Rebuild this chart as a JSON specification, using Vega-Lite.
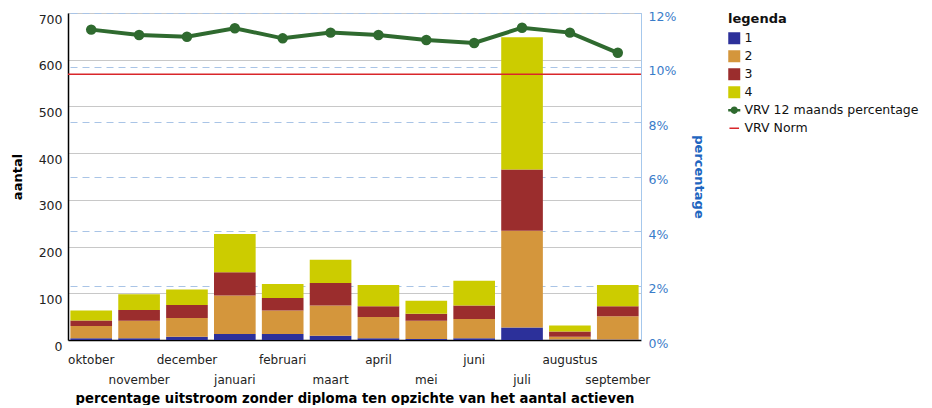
{
  "$schema": "https://vega.github.io/schema/vega-lite/v6.json",
  "width": 573,
  "height": 327,
  "padding": {"left": 11, "top": 10, "right": 0, "bottom": 0},
  "config": {
    "font": "DejaVu Sans",
    "view": {"stroke": "#b9d3ee", "strokeWidth": 1},
    "legend": {
      "titleFontSize": 13,
      "titleFontWeight": "bold",
      "titleColor": "#111",
      "labelFontSize": 12.5,
      "labelColor": "#111",
      "labelLimit": 0,
      "symbolSize": 144,
      "rowPadding": 5,
      "titlePadding": 6
    }
  },
  "datasets": {
    "bars": [
      {"maand": "oktober", "legenda": "1", "aantal": 4},
      {"maand": "oktober", "legenda": "2", "aantal": 26},
      {"maand": "oktober", "legenda": "3", "aantal": 12},
      {"maand": "oktober", "legenda": "4", "aantal": 21},
      {"maand": "november", "legenda": "1", "aantal": 4},
      {"maand": "november", "legenda": "2", "aantal": 37},
      {"maand": "november", "legenda": "3", "aantal": 23},
      {"maand": "november", "legenda": "4", "aantal": 34},
      {"maand": "december", "legenda": "1", "aantal": 7},
      {"maand": "december", "legenda": "2", "aantal": 40},
      {"maand": "december", "legenda": "3", "aantal": 28},
      {"maand": "december", "legenda": "4", "aantal": 33},
      {"maand": "januari", "legenda": "1", "aantal": 13},
      {"maand": "januari", "legenda": "2", "aantal": 82},
      {"maand": "januari", "legenda": "3", "aantal": 50},
      {"maand": "januari", "legenda": "4", "aantal": 82},
      {"maand": "februari", "legenda": "1", "aantal": 13},
      {"maand": "februari", "legenda": "2", "aantal": 50},
      {"maand": "februari", "legenda": "3", "aantal": 27},
      {"maand": "februari", "legenda": "4", "aantal": 30},
      {"maand": "maart", "legenda": "1", "aantal": 9},
      {"maand": "maart", "legenda": "2", "aantal": 65},
      {"maand": "maart", "legenda": "3", "aantal": 48},
      {"maand": "maart", "legenda": "4", "aantal": 50},
      {"maand": "april", "legenda": "1", "aantal": 4},
      {"maand": "april", "legenda": "2", "aantal": 45},
      {"maand": "april", "legenda": "3", "aantal": 23},
      {"maand": "april", "legenda": "4", "aantal": 46},
      {"maand": "mei", "legenda": "1", "aantal": 2},
      {"maand": "mei", "legenda": "2", "aantal": 39},
      {"maand": "mei", "legenda": "3", "aantal": 15},
      {"maand": "mei", "legenda": "4", "aantal": 28},
      {"maand": "juni", "legenda": "1", "aantal": 4},
      {"maand": "juni", "legenda": "2", "aantal": 41},
      {"maand": "juni", "legenda": "3", "aantal": 29},
      {"maand": "juni", "legenda": "4", "aantal": 53},
      {"maand": "juli", "legenda": "1", "aantal": 27},
      {"maand": "juli", "legenda": "2", "aantal": 207},
      {"maand": "juli", "legenda": "3", "aantal": 131},
      {"maand": "juli", "legenda": "4", "aantal": 283},
      {"maand": "augustus", "legenda": "1", "aantal": 1},
      {"maand": "augustus", "legenda": "2", "aantal": 6},
      {"maand": "augustus", "legenda": "3", "aantal": 11},
      {"maand": "augustus", "legenda": "4", "aantal": 13},
      {"maand": "september", "legenda": "1", "aantal": 1},
      {"maand": "september", "legenda": "2", "aantal": 50},
      {"maand": "september", "legenda": "3", "aantal": 21},
      {"maand": "september", "legenda": "4", "aantal": 46}
    ],
    "lijn": [
      {"maand": "oktober", "reeks": "VRV 12 maands percentage", "pct": 0.1139},
      {"maand": "november", "reeks": "VRV 12 maands percentage", "pct": 0.1119},
      {"maand": "december", "reeks": "VRV 12 maands percentage", "pct": 0.1113},
      {"maand": "januari", "reeks": "VRV 12 maands percentage", "pct": 0.1144},
      {"maand": "februari", "reeks": "VRV 12 maands percentage", "pct": 0.1107},
      {"maand": "maart", "reeks": "VRV 12 maands percentage", "pct": 0.1128},
      {"maand": "april", "reeks": "VRV 12 maands percentage", "pct": 0.1119},
      {"maand": "mei", "reeks": "VRV 12 maands percentage", "pct": 0.1101},
      {"maand": "juni", "reeks": "VRV 12 maands percentage", "pct": 0.109},
      {"maand": "juli", "reeks": "VRV 12 maands percentage", "pct": 0.1146},
      {"maand": "augustus", "reeks": "VRV 12 maands percentage", "pct": 0.1128},
      {"maand": "september", "reeks": "VRV 12 maands percentage", "pct": 0.1054}
    ],
    "norm": [
      {"reeks": "VRV Norm", "pct": 0.0975}
    ]
  },
  "layer": [
    {
      "data": {"name": "bars"},
      "mark": {"type": "bar"},
      "encoding": {
        "x": {
          "field": "maand",
          "type": "nominal",
          "sort": ["oktober", "november", "december", "januari", "februari", "maart", "april", "mei", "juni", "juli", "augustus", "september"],
          "scale": {"paddingInner": 0.13, "paddingOuter": 0.05},
          "axis": {
            "title": "percentage uitstroom zonder diploma ten opzichte van het aantal actieven",
            "titleFontSize": 13.2,
            "titleFontWeight": "bold",
            "titleColor": "#000",
            "titlePadding": 7,
            "labelAngle": 0,
            "labelFontSize": 12,
            "labelColor": "#222",
            "labelPadding": 14,
            "labelBaseline": "top",
            "labelLineHeight": 20,
            "labelOverlap": false,
            "labelExpr": "indexof(['november','januari','maart','mei','juli','september'], datum.value) >= 0 ? ['', datum.label] : datum.label",
            "ticks": false,
            "tickSize": 0,
            "domainColor": "#000",
            "domainWidth": 1.5,
            "grid": false
          }
        },
        "y": {
          "field": "aantal",
          "type": "quantitative",
          "stack": "zero",
          "scale": {"domain": [0, 700], "nice": false},
          "axis": {
            "title": "aantal",
            "titleFontSize": 13,
            "titleFontWeight": "bold",
            "titleColor": "#000",
            "titlePadding": 14,
            "values": [0, 100, 200, 300, 400, 500, 600, 700],
            "labelFontSize": 12.5,
            "labelColor": "#222",
            "labelOffset": 6,
            "labelPadding": 6,
            "ticks": false,
            "tickSize": 0,
            "domainColor": "#000",
            "domainWidth": 1.5,
            "grid": true,
            "gridColor": "#c8c8c8"
          }
        },
        "color": {
          "field": "legenda",
          "type": "nominal",
          "scale": {
            "domain": ["1", "2", "3", "4", "VRV 12 maands percentage", "VRV Norm"],
            "range": ["#2c309a", "#d4963c", "#9b2d2d", "#cccc00", "#2f6a2f", "#d9262b"]
          },
          "legend": {
            "title": "legenda",
            "orient": "none",
            "legendX": 660,
            "legendY": 0,
            "encode": {
              "symbols": {
                "update": {
                  "shape": {"signal": "datum.value === 'VRV Norm' ? 'M-0.8,0H0.8' : datum.value === 'VRV 12 maands percentage' ? 'M-0.75,-0.15H0.75V0.15H-0.75Z M0.45,0A0.45,0.45 0 1,1 -0.45,0A0.45,0.45 0 1,1 0.45,0Z' : 'square'"},
                  "size": {"signal": "datum.value === 'VRV 12 maands percentage' ? 260 : 144"},
                  "fill": {"signal": "datum.value === 'VRV Norm' ? 'transparent' : scale('color', datum.value)"},
                  "stroke": {"signal": "scale('color', datum.value)"},
                  "strokeWidth": {"signal": "datum.value === 'VRV Norm' ? 1.5 : 0"},
                  "opacity": {"value": 1}
                }
              }
            }
          }
        },
        "order": {"field": "legenda"}
      }
    },
    {
      "data": {"name": "lijn"},
      "mark": {"type": "line", "strokeWidth": 4, "point": {"filled": true, "size": 110}},
      "encoding": {
        "x": {"field": "maand", "type": "nominal", "sort": ["oktober", "november", "december", "januari", "februari", "maart", "april", "mei", "juni", "juli", "augustus", "september"]},
        "y": {
          "field": "pct",
          "type": "quantitative",
          "scale": {"domain": [0, 0.12], "nice": false},
          "axis": {
            "orient": "right",
            "title": "percentage",
            "titleFontSize": 13,
            "titleFontWeight": "bold",
            "titleColor": "#1f66c0",
            "titleAngle": 90,
            "titlePadding": 16,
            "values": [0, 0.02, 0.04, 0.06, 0.08, 0.1, 0.12],
            "format": ".0%",
            "labelFontSize": 12.5,
            "labelColor": "#3a7cc9",
            "labelOffset": 3,
            "labelPadding": 7,
            "ticks": false,
            "tickSize": 0,
            "domainColor": "#a6c8ec",
            "grid": true,
            "gridColor": "#a9c4e6",
            "gridDash": [7, 5]
          }
        },
        "color": {"field": "reeks", "type": "nominal"}
      }
    },
    {
      "data": {"name": "norm"},
      "mark": {"type": "rule", "strokeWidth": 1.5},
      "encoding": {
        "y": {"field": "pct", "type": "quantitative", "scale": {"domain": [0, 0.12], "nice": false}, "axis": null},
        "color": {"field": "reeks", "type": "nominal"}
      }
    }
  ],
  "resolve": {"scale": {"y": "independent"}}
}
